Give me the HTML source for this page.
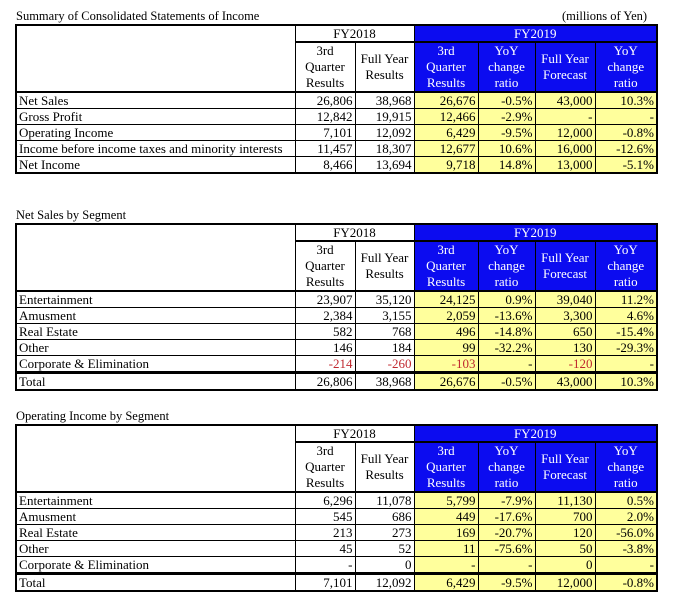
<!DOCTYPE html>
<html><head><meta charset="utf-8"><style>
html,body{margin:0;padding:0;background:#fff;width:676px;height:609px;overflow:hidden;position:relative;font-family:"Liberation Serif",serif;color:#000}
.t{position:absolute;left:16px;font-size:12.5px;line-height:13px;white-space:nowrap}
table{position:absolute;left:15px;border-collapse:collapse;table-layout:fixed;width:641px;font-size:13px;line-height:14px;border:2px solid #000}
td{border:1px solid #000;padding:0 2px;text-align:right;white-space:nowrap;overflow:hidden}
td.l{text-align:left;padding-left:2px}
.h td{text-align:center;line-height:16px}
.fy td{text-align:center;height:15px;border-bottom:2px solid #000}
.b{background:#0c0cf0;color:#fff}
.y{background:#ffff9c}
.r{color:#c0282f}
tr.d td{height:15px}
tr.tot td{border-top:3px solid #000}
.hdr td{border-bottom:2px solid #000}
</style></head><body>
<div class="t" style="top:10px">Summary of Consolidated Statements of Income</div>
<div class="t" style="top:10px;left:562px">(millions of Yen)</div>
<table style="top:24px">
<colgroup><col style="width:279px"><col style="width:60px"><col style="width:59px"><col style="width:64px"><col style="width:57px"><col style="width:60px"><col style="width:62px"></colgroup>
<tr class="fy"><td rowspan="2" style="border-bottom:2px solid #000"></td><td colspan="2">FY2018</td><td colspan="4" class="b">FY2019</td></tr>
<tr class="h hdr"><td style="height:47px">3rd<br>Quarter<br>Results</td><td>Full Year<br>Results</td><td class="b">3rd<br>Quarter<br>Results</td><td class="b">YoY<br>change<br>ratio</td><td class="b">Full Year<br>Forecast</td><td class="b">YoY<br>change<br>ratio</td></tr>
<tr class="d"><td class="l">Net Sales</td><td>26,806</td><td>38,968</td><td class="y">26,676</td><td class="y">-0.5%</td><td class="y">43,000</td><td class="y">10.3%</td></tr>
<tr class="d"><td class="l">Gross Profit</td><td>12,842</td><td>19,915</td><td class="y">12,466</td><td class="y">-2.9%</td><td class="y">-</td><td class="y">-</td></tr>
<tr class="d"><td class="l">Operating Income</td><td>7,101</td><td>12,092</td><td class="y">6,429</td><td class="y">-9.5%</td><td class="y">12,000</td><td class="y">-0.8%</td></tr>
<tr class="d"><td class="l">Income before income taxes and minority interests</td><td>11,457</td><td>18,307</td><td class="y">12,677</td><td class="y">10.6%</td><td class="y">16,000</td><td class="y">-12.6%</td></tr>
<tr class="d"><td class="l">Net Income</td><td>8,466</td><td>13,694</td><td class="y">9,718</td><td class="y">14.8%</td><td class="y">13,000</td><td class="y">-5.1%</td></tr>
</table>

<div class="t" style="top:209px">Net Sales by Segment</div>
<table style="top:223px">
<colgroup><col style="width:279px"><col style="width:60px"><col style="width:59px"><col style="width:64px"><col style="width:57px"><col style="width:60px"><col style="width:62px"></colgroup>
<tr class="fy"><td rowspan="2" style="border-bottom:2px solid #000"></td><td colspan="2">FY2018</td><td colspan="4" class="b">FY2019</td></tr>
<tr class="h hdr"><td style="height:47px">3rd<br>Quarter<br>Results</td><td>Full Year<br>Results</td><td class="b">3rd<br>Quarter<br>Results</td><td class="b">YoY<br>change<br>ratio</td><td class="b">Full Year<br>Forecast</td><td class="b">YoY<br>change<br>ratio</td></tr>
<tr class="d"><td class="l">Entertainment</td><td>23,907</td><td>35,120</td><td class="y">24,125</td><td class="y">0.9%</td><td class="y">39,040</td><td class="y">11.2%</td></tr>
<tr class="d"><td class="l">Amusment</td><td>2,384</td><td>3,155</td><td class="y">2,059</td><td class="y">-13.6%</td><td class="y">3,300</td><td class="y">4.6%</td></tr>
<tr class="d"><td class="l">Real Estate</td><td>582</td><td>768</td><td class="y">496</td><td class="y">-14.8%</td><td class="y">650</td><td class="y">-15.4%</td></tr>
<tr class="d"><td class="l">Other</td><td>146</td><td>184</td><td class="y">99</td><td class="y">-32.2%</td><td class="y">130</td><td class="y">-29.3%</td></tr>
<tr class="d"><td class="l">Corporate &amp; Elimination</td><td class="r">-214</td><td class="r">-260</td><td class="y r">-103</td><td class="y">-</td><td class="y r">-120</td><td class="y">-</td></tr>
<tr class="d tot"><td class="l">Total</td><td>26,806</td><td>38,968</td><td class="y">26,676</td><td class="y">-0.5%</td><td class="y">43,000</td><td class="y">10.3%</td></tr>
</table>

<div class="t" style="top:410px">Operating Income by Segment</div>
<table style="top:424px">
<colgroup><col style="width:279px"><col style="width:60px"><col style="width:59px"><col style="width:64px"><col style="width:57px"><col style="width:60px"><col style="width:62px"></colgroup>
<tr class="fy"><td rowspan="2" style="border-bottom:2px solid #000"></td><td colspan="2">FY2018</td><td colspan="4" class="b">FY2019</td></tr>
<tr class="h hdr"><td style="height:47px">3rd<br>Quarter<br>Results</td><td>Full Year<br>Results</td><td class="b">3rd<br>Quarter<br>Results</td><td class="b">YoY<br>change<br>ratio</td><td class="b">Full Year<br>Forecast</td><td class="b">YoY<br>change<br>ratio</td></tr>
<tr class="d"><td class="l">Entertainment</td><td>6,296</td><td>11,078</td><td class="y">5,799</td><td class="y">-7.9%</td><td class="y">11,130</td><td class="y">0.5%</td></tr>
<tr class="d"><td class="l">Amusment</td><td>545</td><td>686</td><td class="y">449</td><td class="y">-17.6%</td><td class="y">700</td><td class="y">2.0%</td></tr>
<tr class="d"><td class="l">Real Estate</td><td>213</td><td>273</td><td class="y">169</td><td class="y">-20.7%</td><td class="y">120</td><td class="y">-56.0%</td></tr>
<tr class="d"><td class="l">Other</td><td>45</td><td>52</td><td class="y">11</td><td class="y">-75.6%</td><td class="y">50</td><td class="y">-3.8%</td></tr>
<tr class="d"><td class="l">Corporate &amp; Elimination</td><td>-</td><td>0</td><td class="y">-</td><td class="y">-</td><td class="y">0</td><td class="y">-</td></tr>
<tr class="d tot"><td class="l">Total</td><td>7,101</td><td>12,092</td><td class="y">6,429</td><td class="y">-9.5%</td><td class="y">12,000</td><td class="y">-0.8%</td></tr>
</table>
</body></html>
